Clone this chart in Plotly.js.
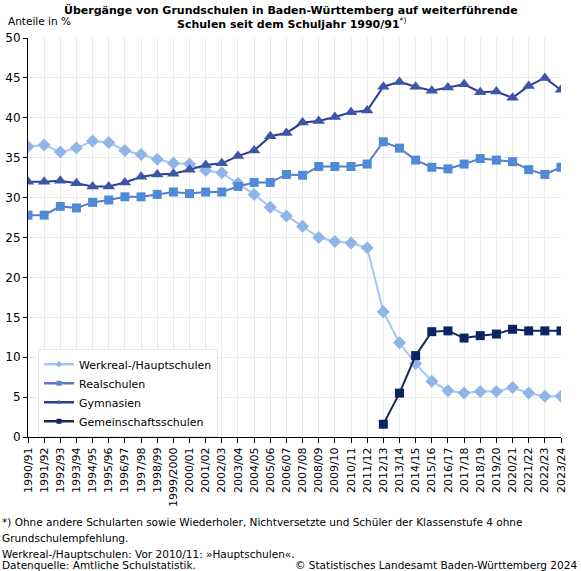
<!DOCTYPE html>
<html><head><meta charset="utf-8">
<script src="https://cdn.plot.ly/plotly-3.0.1.min.js"></script>
<style>html,body{margin:0;padding:0;background:#fff}#c{width:581px;height:571px}</style>
</head><body><div id="c"></div>
<script>
const years = ["1990/91","1991/92","1992/93","1993/94","1994/95","1995/96","1996/97","1997/98","1998/99","1999/2000","2000/01","2001/02","2002/03","2003/04","2004/05","2005/06","2006/07","2007/08","2008/09","2009/10","2010/11","2011/12","2012/13","2013/14","2014/15","2015/16","2016/17","2017/18","2018/19","2019/20","2020/21","2021/22","2022/23","2023/24"];
const werkreal = [36.4,36.6,35.7,36.2,37.1,36.9,35.9,35.4,34.8,34.3,34.2,33.4,33.1,31.8,30.4,28.8,27.7,26.4,25.0,24.5,24.3,23.7,15.7,11.8,9.2,7.0,5.8,5.5,5.7,5.7,6.2,5.5,5.1,5.1];
const realschulen = [27.8,27.8,28.9,28.7,29.4,29.7,30.1,30.1,30.4,30.7,30.5,30.7,30.7,31.4,31.9,31.9,32.9,32.8,33.9,33.9,33.9,34.2,37.0,36.2,34.7,33.8,33.6,34.2,34.9,34.7,34.5,33.5,32.9,33.8];
const gymnasien = [32.0,32.0,32.1,31.8,31.4,31.4,31.9,32.6,32.9,33.0,33.5,34.1,34.3,35.2,35.9,37.7,38.1,39.4,39.6,40.1,40.7,40.9,43.9,44.5,43.9,43.4,43.8,44.2,43.2,43.3,42.5,44.0,45.0,43.5];
const gemeinschaft = [null,null,null,null,null,null,null,null,null,null,null,null,null,null,null,null,null,null,null,null,null,null,1.6,5.5,10.2,13.2,13.3,12.4,12.7,12.9,13.5,13.3,13.3,13.3];
const seriesNames = ["Werkreal-/Hauptschulen","Realschulen","Gymnasien","Gemeinschaftsschulen"];
const yTicks = [0,5,10,15,20,25,30,35,40,45,50];
const titleLines = ["<b>Übergänge von Grundschulen in Baden-Württemberg auf weiterführende</b>","<b>Schulen seit dem Schuljahr 1990/91</b><sup>*)</sup>"];
const footLines = ["*) Ohne andere Schularten sowie Wiederholer, Nichtversetzte und Schüler der Klassenstufe 4 ohne","Grundschulempfehlung.","Werkreal-/Hauptschulen: Vor 2010/11: »Hauptschulen«.","Datenquelle: Amtliche Schulstatistik."];
const sourceText = "© Statistisches Landesamt Baden-Württemberg 2024";
const yUnit = "Anteile in %";

const styles = [
  {line:"#a6c4f5", marker:"#8fb4e8", symbol:"diamond", size:10},
  {line:"#5f78c6", marker:"#4f8ad6", symbol:"square", size:9},
  {line:"#2a3f8f", marker:"#3d56a8", symbol:"triangle-up", size:11},
  {line:"#1c2a4a", marker:"#0b2466", symbol:"square", size:9}
];
const data = [werkreal, realschulen, gymnasien, gemeinschaft];
const traces = [];
data.forEach((d,i)=>{
  traces.push({x:years, y:d, type:"scatter", mode:"lines+markers", name:seriesNames[i],
    showlegend:false, line:{color:styles[i].line, width:2},
    marker:{color:styles[i].marker, symbol:styles[i].symbol, size:styles[i].size, line:{width:0}}, connectgaps:false});
});
data.forEach((d,i)=>{
  traces.push({x:[null], y:[null], type:"scatter", mode:"lines+markers", name:seriesNames[i],
    line:{color:styles[i].line, width:2.5},
    marker:{color:styles[i].marker, symbol:styles[i].symbol, size:5}});
});

const font = "DejaVu Sans, Verdana, sans-serif";
// pixel helpers for annotation placement (plot area: x 28..561, y 37.5..437.5)
const px = p => (p-28)/533;
const py = p => (437.5-p)/400;
const ann = [];
ann.push({text:titleLines[0], xref:"paper", yref:"paper", x:px(291), y:py(9), xanchor:"center", yanchor:"middle", showarrow:false, font:{size:11, family:font}});
ann.push({text:titleLines[1], xref:"paper", yref:"paper", x:px(291), y:py(23), xanchor:"center", yanchor:"middle", showarrow:false, font:{size:11, family:font}});
ann.push({text:yUnit, xref:"paper", yref:"paper", x:px(6), y:py(20), xanchor:"left", yanchor:"middle", showarrow:false, font:{size:10.5, family:font}});
const footY = [523, 539, 555, 566];
footLines.forEach((t,i)=>ann.push({text:t, xref:"paper", yref:"paper", x:px(0), y:py(footY[i]), xanchor:"left", yanchor:"middle", showarrow:false, font:{size:10.5, family:font}}));
ann.push({text:sourceText, xref:"paper", yref:"paper", x:px(579), y:py(566), xanchor:"right", yanchor:"middle", showarrow:false, font:{size:10.5, family:font}});

const layout = {
  width:581, height:571,
  margin:{l:28, r:20, t:37.5, b:133.5},
  paper_bgcolor:"#fff", plot_bgcolor:"#fff",
  font:{family:font, size:11, color:"#000"},
  xaxis:{type:"category", categoryorder:"array", categoryarray:years, tickangle:-90,
    range:[0, years.length-1], showgrid:true, gridcolor:"#ebebeb", gridwidth:1,
    showline:true, linecolor:"#000", linewidth:1, ticks:"outside", ticklen:5, tickcolor:"#000",
    tickfont:{size:11, family:font}, zeroline:false, automargin:false},
  yaxis:{range:[0,50], tickvals:yTicks, showgrid:true, gridcolor:"#ebebeb", gridwidth:1,
    showline:true, linecolor:"#000", linewidth:1, ticks:"outside", ticklen:4, tickcolor:"#000",
    tickfont:{size:12, family:font}, zeroline:false, automargin:false},
  legend:{x:px(38), xanchor:"left", y:py(349), yanchor:"top", bgcolor:"#fff", bordercolor:"#e6e6e6", borderwidth:1,
    font:{size:11, family:font}, tracegroupgap:0, itemwidth:30},
  annotations:ann
};
Plotly.newPlot("c", traces, layout, {displayModeBar:false, staticPlot:true});
</script></body></html>
